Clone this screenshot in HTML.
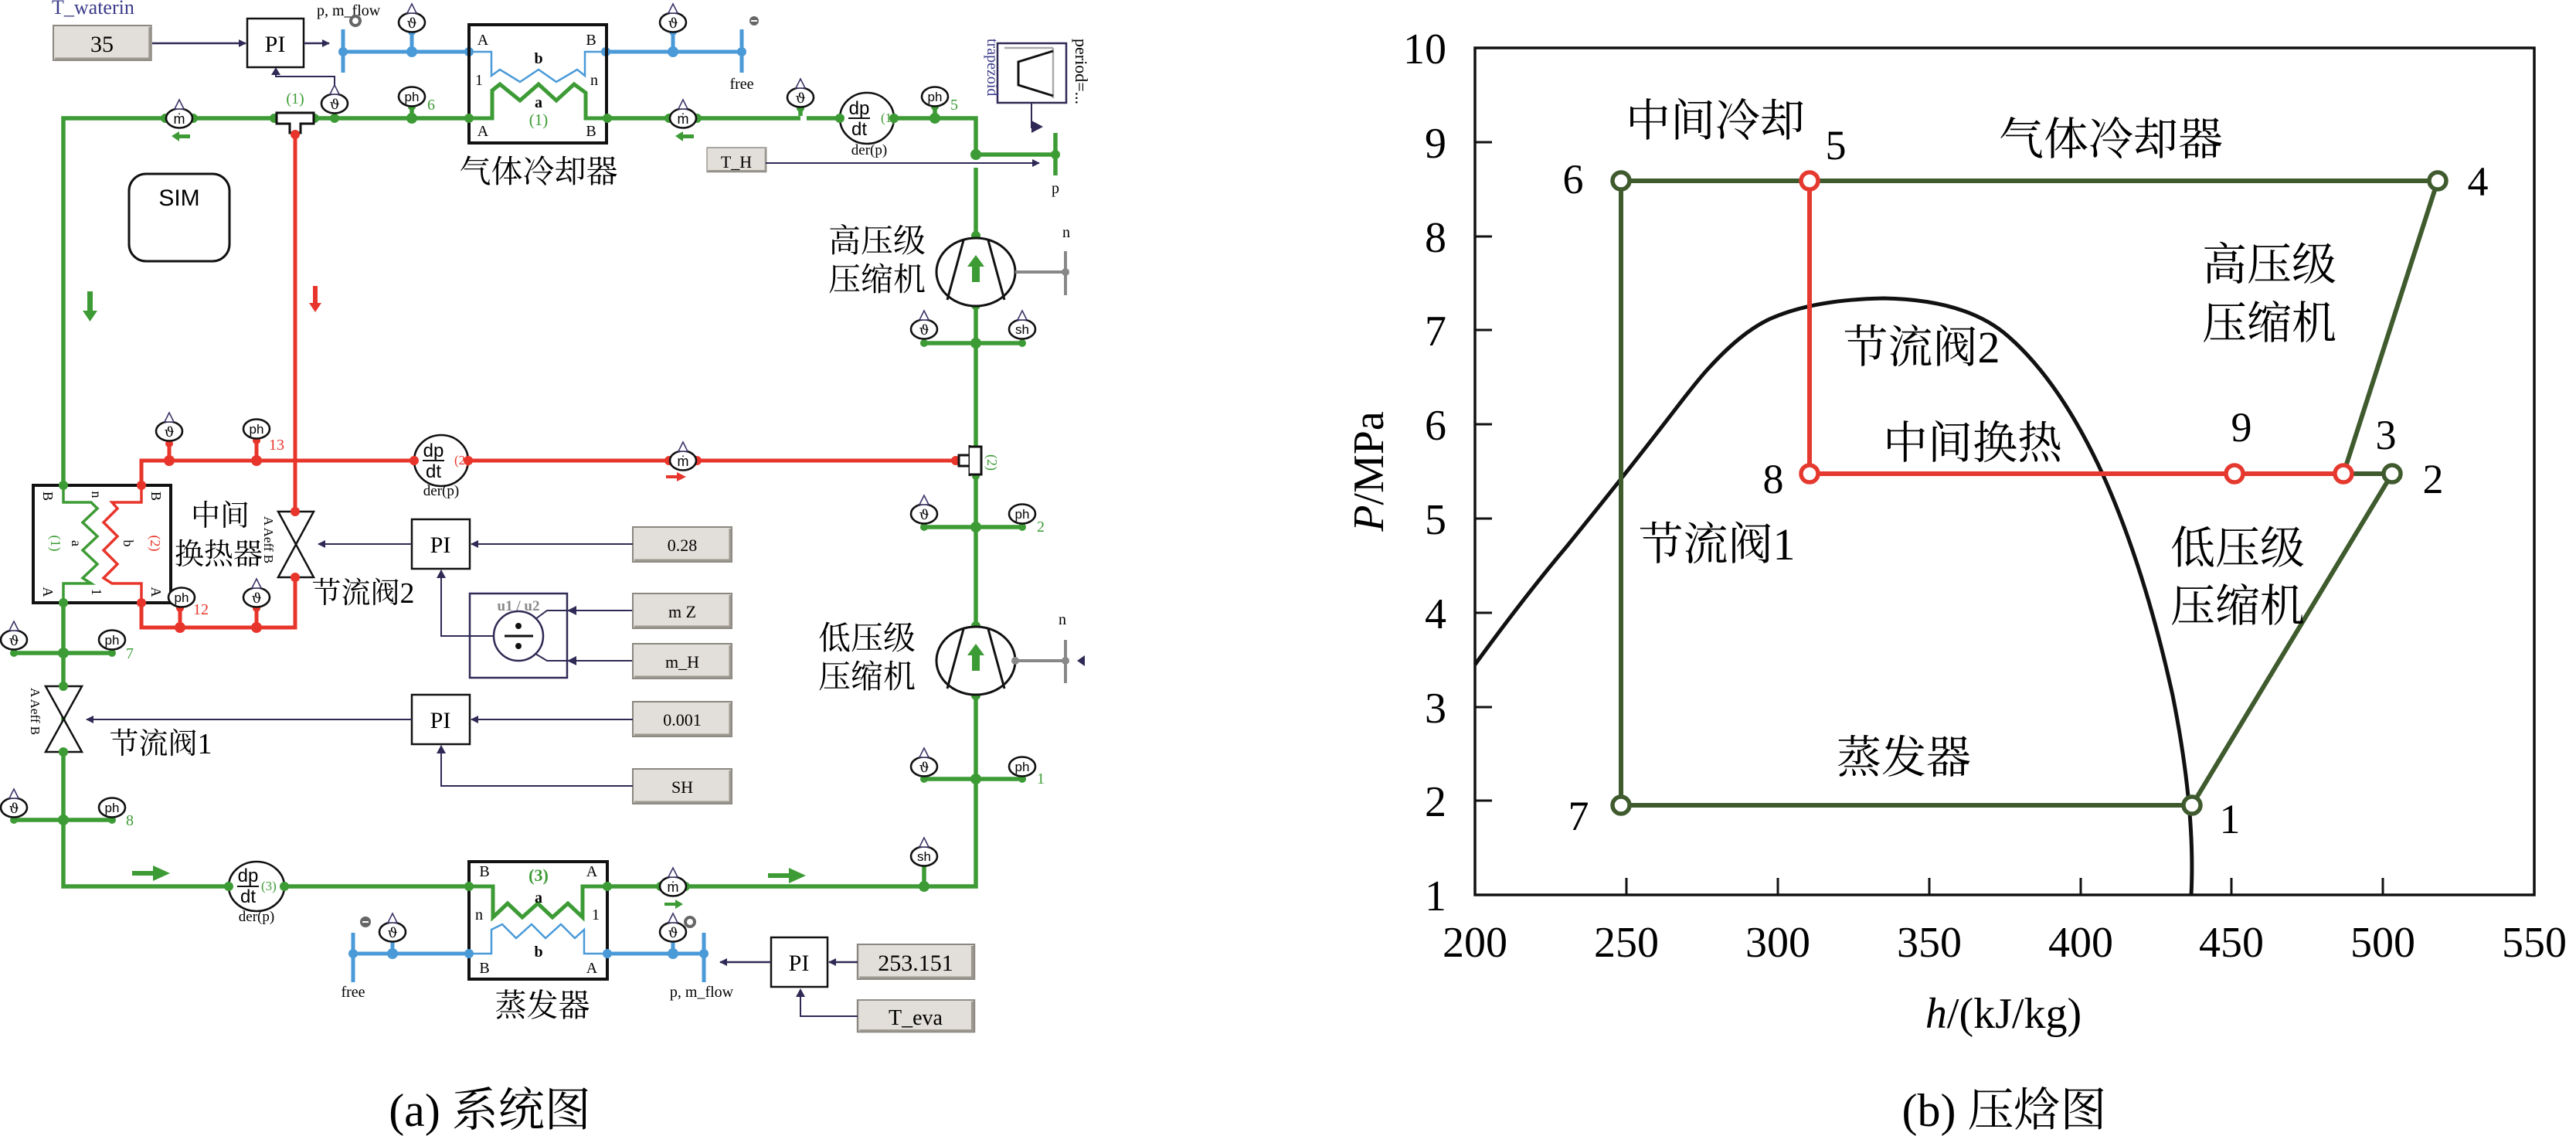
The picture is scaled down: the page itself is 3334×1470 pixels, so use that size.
<!DOCTYPE html>
<html><head><meta charset="utf-8">
<style>
html,body{margin:0;padding:0;background:#fff;}
svg{display:block;}
.s{font-family:"Liberation Serif","Noto Serif CJK SC",serif;}
.a{font-family:"Liberation Sans","DejaVu Sans",sans-serif;}
.cj{font-family:"Liberation Serif","Noto Serif CJK SC","Noto Sans CJK SC",serif;}
</style></head>
<body>
<svg width="3334" height="1470" viewBox="0 0 3334 1470" xmlns="http://www.w3.org/2000/svg">
<defs>
<g id="sb"><ellipse cx="0" cy="0" rx="17" ry="12.5" fill="#fff" stroke="#111" stroke-width="2.6"/><path d="M-6,-12 L0,-24 L6,-12 Z" fill="#fff" stroke="#3b3366" stroke-width="1.6"/></g>
<g id="sbn"><ellipse cx="0" cy="0" rx="17" ry="12.5" fill="#fff" stroke="#111" stroke-width="2.6"/></g>
<g id="cb"><rect x="0" y="0" width="128" height="45" fill="#e2dfda" stroke="#8a8780" stroke-width="2"/><path d="M2,43 H126 V2" fill="none" stroke="#9c9890" stroke-width="3"/></g>
<marker id="ah" markerWidth="10" markerHeight="10" refX="9" refY="5" orient="auto" markerUnits="userSpaceOnUse"><path d="M0,0 L10,5 L0,10 Z" fill="#2f2a55"/></marker>
</defs>

<g class="s">
<text x="67" y="18" font-size="26" fill="#3a3a8a">T_waterin</text>
<use href="#cb" transform="translate(69,33) scale(0.99,1)"/>
<text x="132" y="67" font-size="30" text-anchor="middle">35</text>
<line x1="197" y1="56" x2="318" y2="56" stroke="#2f2a55" stroke-width="2.5" marker-end="url(#ah)"/>
<rect x="320" y="24" width="73" height="63" fill="#fff" stroke="#111" stroke-width="2.5"/>
<text x="356" y="67" font-size="30" text-anchor="middle">PI</text>
<line x1="393" y1="56" x2="426" y2="56" stroke="#2f2a55" stroke-width="2.5" marker-end="url(#ah)"/>
<text x="410" y="20" font-size="20">p, m_flow</text>
<circle cx="460" cy="27" r="6" fill="#fff" stroke="#666" stroke-width="4"/>
<circle cx="976" cy="27" r="6" fill="#666"/><line x1="972" y1="27" x2="980" y2="27" stroke="#fff" stroke-width="2"/>
<path d="M433,121 V99 H357 V89" fill="none" stroke="#2f2a55" stroke-width="2"/>
<path d="M351,97 L357,87 L363,97 Z" fill="#2f2a55"/>

<g stroke="#4a9ad8" stroke-width="5" fill="none">
<line x1="444" y1="67" x2="607" y2="67"/>
<line x1="784" y1="67" x2="960" y2="67"/>
<line x1="444" y1="38" x2="444" y2="94"/>
<line x1="960" y1="38" x2="960" y2="94"/>
<line x1="533" y1="40" x2="533" y2="67"/>
<line x1="871" y1="40" x2="871" y2="67"/>
</g>
<path d="M607,67 H636 V98 L647,90 L673,106 L697,90 L720,106 L747,90 L757,98 V67 H786" fill="none" stroke="#4a9ad8" stroke-width="2.5"/>
<g fill="#4a9ad8"><circle cx="444" cy="67" r="6"/><circle cx="533" cy="67" r="7"/><circle cx="533" cy="41" r="5"/><circle cx="607" cy="67" r="6"/><circle cx="784" cy="67" r="6"/><circle cx="871" cy="67" r="7"/><circle cx="871" cy="41" r="5"/><circle cx="960" cy="67" r="6"/></g>
<use href="#sb" x="533" y="29"/><text x="533" y="36" font-size="18" text-anchor="middle" font-family="DejaVu Serif">ϑ</text>
<use href="#sb" x="871" y="29"/><text x="871" y="36" font-size="18" text-anchor="middle" font-family="DejaVu Serif">ϑ</text>
<text x="960" y="115" font-size="20" text-anchor="middle">free</text>

<rect x="607" y="32" width="178" height="153" fill="none" stroke="#111" stroke-width="4"/>
<text x="625" y="58" font-size="20" text-anchor="middle">A</text>
<text x="765" y="58" font-size="20" text-anchor="middle">B</text>
<text x="620" y="110" font-size="20" text-anchor="middle">1</text>
<text x="769" y="110" font-size="20" text-anchor="middle">n</text>
<text x="697" y="82" font-size="20" font-weight="bold" text-anchor="middle">b</text>
<text x="697" y="139" font-size="20" font-weight="bold" text-anchor="middle">a</text>
<text x="697" y="162" font-size="21" fill="#3d9b35" text-anchor="middle">(1)</text>
<text x="625" y="176" font-size="20" text-anchor="middle">A</text>
<text x="765" y="176" font-size="20" text-anchor="middle">B</text>
<path d="M607,153 H637 V117 L647,109 L673,130 L697,109 L720,130 L743,109 L758,120 V153 H786" fill="none" stroke="#3d9b35" stroke-width="5"/>
<text x="697" y="236" font-size="41" text-anchor="middle" class="cj">气体冷却器</text>

<g stroke="#3d9b35" stroke-width="5.5" fill="none">
<path d="M607,153 H82 V628"/>
<path d="M786,153 H1036"/>
<path d="M1044,153 H1263 V200"/>
<path d="M1263,200 H1366"/>
<line x1="1366" y1="172" x2="1366" y2="227"/>
<path d="M1263,217 V1147 H786"/>
<path d="M607,1147 H82 V780"/>
<line x1="1196" y1="444" x2="1323" y2="444"/>
<line x1="1196" y1="682" x2="1323" y2="682"/>
<line x1="1196" y1="1008" x2="1323" y2="1008"/>
<line x1="18" y1="845" x2="145" y2="845"/>
<line x1="18" y1="1061" x2="145" y2="1061"/>
<line x1="1196" y1="1118" x2="1196" y2="1147"/>
<line x1="433" y1="140" x2="433" y2="153"/>
<line x1="533" y1="135" x2="533" y2="153"/>
<line x1="1036" y1="137" x2="1036" y2="150"/>
<line x1="1210" y1="135" x2="1210" y2="153"/>
</g>
<g fill="#3d9b35">
<circle cx="82" cy="628" r="6"/><circle cx="82" cy="780" r="6"/>
<circle cx="214" cy="153" r="6"/><circle cx="250" cy="153" r="6"/>
<circle cx="355" cy="153" r="6"/><circle cx="407" cy="153" r="6"/>
<circle cx="433" cy="153" r="6"/><circle cx="533" cy="153" r="7"/><circle cx="533" cy="138" r="5"/>
<circle cx="607" cy="153" r="6"/><circle cx="786" cy="153" r="6"/>
<circle cx="866" cy="153" r="6"/><circle cx="902" cy="153" r="6"/>
<circle cx="1036" cy="140" r="5"/><circle cx="1087" cy="153" r="6"/><circle cx="1157" cy="153" r="6"/>
<circle cx="1210" cy="153" r="7"/><circle cx="1210" cy="138" r="5"/>
<circle cx="1263" cy="200" r="7"/><circle cx="1366" cy="200" r="6"/>
<circle cx="1263" cy="305" r="6"/><circle cx="1263" cy="395" r="6"/>
<circle cx="1196" cy="444" r="5"/><circle cx="1263" cy="444" r="7"/><circle cx="1323" cy="444" r="5"/>
<circle cx="1263" cy="580" r="5"/><circle cx="1263" cy="616" r="5"/>
<circle cx="1196" cy="682" r="5"/><circle cx="1263" cy="682" r="7"/><circle cx="1323" cy="682" r="5"/>
<circle cx="1263" cy="810" r="6"/><circle cx="1263" cy="900" r="6"/>
<circle cx="1196" cy="1008" r="5"/><circle cx="1263" cy="1008" r="7"/><circle cx="1323" cy="1008" r="5"/>
<circle cx="1196" cy="1118" r="5"/><circle cx="1196" cy="1147" r="7"/>
<circle cx="18" cy="845" r="5"/><circle cx="82" cy="845" r="7"/><circle cx="145" cy="845" r="5"/>
<circle cx="82" cy="888" r="6"/><circle cx="82" cy="973" r="6"/>
<circle cx="18" cy="1061" r="5"/><circle cx="82" cy="1061" r="7"/><circle cx="145" cy="1061" r="5"/>
<circle cx="296" cy="1147" r="6"/><circle cx="368" cy="1147" r="6"/>
<circle cx="607" cy="1147" r="6"/><circle cx="786" cy="1147" r="6"/>
<circle cx="855" cy="1147" r="6"/><circle cx="887" cy="1147" r="6"/>
</g>
<g fill="#3d9b35">
<path d="M222,176 L232,170 L232,174 L246,174 L246,179 L232,179 L232,183 Z"/>
<path d="M874,176 L884,170 L884,174 L898,174 L898,179 L884,179 L884,183 Z"/>
<path d="M113,377 H120 V402 H126 L116.5,416 L107,402 H113 Z"/>
<path d="M171,1127 H198 V1120 L220,1130 L198,1140 V1133 H171 Z"/>
<path d="M994,1130 H1021 V1123 L1043,1133 L1021,1143 V1136 H994 Z"/>
<path d="M860,1168 H874 V1164 L884,1170 L874,1176 V1172 H860 Z"/>
</g>

<path d="M358,146 H406 V160 H389 V172 H375 V160 H358 Z" fill="#fff" stroke="#111" stroke-width="3"/>
<text x="382" y="134" font-size="20" fill="#3d9b35" text-anchor="middle">(1)</text>

<use href="#sb" x="433" y="134"/><text x="433" y="141" font-size="18" text-anchor="middle" font-family="DejaVu Serif">ϑ</text>
<use href="#sbn" x="533" y="125"/><text x="533" y="131" font-size="17" text-anchor="middle" class="a">ph</text>
<text x="553" y="142" font-size="20" fill="#3d9b35">6</text>
<use href="#sb" x="232" y="153"/><text x="232" y="160" font-size="18" text-anchor="middle" class="a">ṁ</text>
<use href="#sb" x="884" y="153"/><text x="884" y="160" font-size="18" text-anchor="middle" class="a">ṁ</text>
<use href="#sb" x="1036" y="126"/><text x="1036" y="133" font-size="18" text-anchor="middle" font-family="DejaVu Serif">ϑ</text>
<use href="#sbn" x="1210" y="125"/><text x="1210" y="131" font-size="17" text-anchor="middle" class="a">ph</text>
<text x="1230" y="142" font-size="20" fill="#3d9b35">5</text>
<ellipse cx="1122" cy="153" rx="35" ry="33" fill="#fff" stroke="#111" stroke-width="2.6"/>
<text x="1112" y="148" font-size="24" text-anchor="middle" class="a">dp</text>
<line x1="1098" y1="153" x2="1126" y2="153" stroke="#111" stroke-width="2"/>
<text x="1112" y="175" font-size="24" text-anchor="middle" class="a">dt</text>
<text x="1140" y="158" font-size="17" fill="#3d9b35">(1)</text>
<text x="1125" y="200" font-size="19" text-anchor="middle">der(p)</text>
<circle cx="1087" cy="153" r="6" fill="#3d9b35"/><circle cx="1157" cy="153" r="6" fill="#3d9b35"/>

<use href="#cb" transform="translate(915,191) scale(0.6,0.7)"/>
<text x="953" y="217" font-size="22" text-anchor="middle">T_H</text>
<line x1="991" y1="211" x2="1345" y2="211" stroke="#2f2a55" stroke-width="2" marker-end="url(#ah)"/>
<rect x="1291" y="56" width="89" height="77" fill="#fff" stroke="#2f2a55" stroke-width="2.5"/>
<path d="M1363,62 V127 M1300,62 H1363" stroke="#aaa" stroke-width="2.5" fill="none"/>
<path d="M1363,66 L1318,80 V110 L1363,124" stroke="#111" stroke-width="3" fill="none"/>
<text transform="translate(1278,50) rotate(90)" font-size="20" fill="#3a3a8a">trapezoid</text>
<text transform="translate(1392,50) rotate(90)" font-size="22">period=...</text>
<line x1="1335" y1="133" x2="1335" y2="166" stroke="#2f2a55" stroke-width="2"/>
<path d="M1335,156 L1350,164 L1335,172 Z" fill="#2f2a55"/>
<text x="1366" y="250" font-size="20" text-anchor="middle">p</text>

<ellipse cx="1263" cy="352" rx="51" ry="44" fill="#fff" stroke="#111" stroke-width="3"/>
<path d="M1247,311 L1226,388 M1279,311 L1300,388" stroke="#111" stroke-width="3"/>
<path d="M1258,365 V345 H1252 L1263,330 L1274,345 H1268 V365 Z" fill="#3d9b35"/>
<line x1="1314" y1="352" x2="1379" y2="352" stroke="#888" stroke-width="4"/>
<line x1="1379" y1="325" x2="1379" y2="382" stroke="#888" stroke-width="4"/>
<circle cx="1379" cy="352" r="5" fill="#888"/>
<text x="1380" y="307" font-size="20" text-anchor="middle">n</text>
<text x="1135" y="326" font-size="42" text-anchor="middle" class="cj">高压级</text>
<text x="1135" y="376" font-size="42" text-anchor="middle" class="cj">压缩机</text>

<use href="#sb" x="1196" y="426"/><text x="1196" y="433" font-size="18" text-anchor="middle" font-family="DejaVu Serif">ϑ</text>
<use href="#sb" x="1323" y="426"/><text x="1323" y="432" font-size="17" text-anchor="middle" class="a">sh</text>
<use href="#sb" x="1196" y="665"/><text x="1196" y="672" font-size="18" text-anchor="middle" font-family="DejaVu Serif">ϑ</text>
<use href="#sbn" x="1323" y="665"/><text x="1323" y="671" font-size="17" text-anchor="middle" class="a">ph</text>
<text x="1342" y="688" font-size="20" fill="#3d9b35">2</text>
<use href="#sb" x="1196" y="992"/><text x="1196" y="999" font-size="18" text-anchor="middle" font-family="DejaVu Serif">ϑ</text>
<use href="#sbn" x="1323" y="992"/><text x="1323" y="998" font-size="17" text-anchor="middle" class="a">ph</text>
<text x="1342" y="1014" font-size="20" fill="#3d9b35">1</text>
<use href="#sb" x="1196" y="1108"/><text x="1196" y="1114" font-size="17" text-anchor="middle" class="a">sh</text>

<ellipse cx="1263" cy="855" rx="51" ry="44" fill="#fff" stroke="#111" stroke-width="3"/>
<path d="M1247,814 L1226,891 M1279,814 L1300,891" stroke="#111" stroke-width="3"/>
<path d="M1258,868 V848 H1252 L1263,833 L1274,848 H1268 V868 Z" fill="#3d9b35"/>
<line x1="1314" y1="855" x2="1379" y2="855" stroke="#888" stroke-width="4"/>
<line x1="1379" y1="828" x2="1379" y2="884" stroke="#888" stroke-width="4"/>
<circle cx="1314" cy="855" r="5" fill="#888"/><circle cx="1379" cy="855" r="5" fill="#888"/>
<path d="M1404,848 L1394,855 L1404,862 Z" fill="#2f2a55"/>
<text x="1375" y="808" font-size="20" text-anchor="middle">n</text>
<text x="1122" y="840" font-size="42" text-anchor="middle" class="cj">低压级</text>
<text x="1122" y="890" font-size="42" text-anchor="middle" class="cj">压缩机</text>

<rect x="167" y="225" width="130" height="113" rx="22" fill="#fff" stroke="#111" stroke-width="3"/>
<text x="232" y="266" font-size="30" text-anchor="middle" class="a">SIM</text>

<g stroke="#e8352b" stroke-width="5" fill="none">
<line x1="382" y1="174" x2="382" y2="662"/>
<path d="M183,628 V596 H1237"/>
<path d="M382,747 V812 H183 V780"/>
<line x1="219" y1="572" x2="219" y2="596"/>
<line x1="332" y1="568" x2="332" y2="596"/>
<line x1="233" y1="785" x2="233" y2="812"/>
<line x1="332" y1="785" x2="332" y2="812"/>
</g>
<path d="M405,370 H411 V392 H416 L408,404 L400,392 H405 Z" fill="#e8352b"/>
<path d="M862,615 H876 V611 L888,617 L876,623 V619 H862 Z" fill="#e8352b"/>
<g fill="#e8352b">
<circle cx="382" cy="174" r="6"/><circle cx="382" cy="662" r="6"/><circle cx="382" cy="747" r="6"/>
<circle cx="183" cy="628" r="6"/><circle cx="183" cy="780" r="6"/>
<circle cx="219" cy="596" r="7"/><circle cx="219" cy="574" r="5"/>
<circle cx="332" cy="596" r="7"/><circle cx="332" cy="570" r="5"/>
<circle cx="536" cy="596" r="6"/><circle cx="606" cy="596" r="6"/>
<circle cx="866" cy="596" r="6"/><circle cx="902" cy="596" r="6"/>
<circle cx="1237" cy="596" r="6"/>
<circle cx="233" cy="812" r="7"/><circle cx="233" cy="787" r="5"/>
<circle cx="332" cy="812" r="7"/><circle cx="332" cy="787" r="5"/>
</g>
<use href="#sb" x="219" y="558"/><text x="219" y="565" font-size="18" text-anchor="middle" font-family="DejaVu Serif">ϑ</text>
<use href="#sbn" x="332" y="555"/><text x="332" y="561" font-size="17" text-anchor="middle" class="a">ph</text>
<text x="348" y="582" font-size="20" fill="#e8352b">13</text>
<ellipse cx="571" cy="596" rx="35" ry="33" fill="#fff" stroke="#111" stroke-width="2.6"/>
<text x="561" y="591" font-size="24" text-anchor="middle" class="a">dp</text>
<line x1="547" y1="596" x2="575" y2="596" stroke="#111" stroke-width="2"/>
<text x="561" y="618" font-size="24" text-anchor="middle" class="a">dt</text>
<text x="588" y="601" font-size="17" fill="#e8352b">(2)</text>
<text x="571" y="641" font-size="19" text-anchor="middle">der(p)</text>
<circle cx="536" cy="596" r="6" fill="#e8352b"/><circle cx="606" cy="596" r="6" fill="#e8352b"/>
<use href="#sb" x="884" y="596"/><text x="884" y="603" font-size="18" text-anchor="middle" class="a">ṁ</text>
<path d="M1255,576 V616 M1241,589 H1255 V603 H1241 Z" fill="#fff" stroke="#111" stroke-width="3"/>
<path d="M1255,578 H1270 V614 H1255" fill="#fff" stroke="#111" stroke-width="3"/>
<text transform="translate(1278,588) rotate(90)" font-size="18" fill="#3d9b35">(2)</text>

<rect x="43" y="628" width="178" height="152" fill="#fff" stroke="#111" stroke-width="4"/>
<path d="M82,628 V650 H118 L126,658 L107,676 L126,694 L107,712 L126,730 L107,748 L118,755 H82 V780" fill="none" stroke="#3d9b35" stroke-width="3.5"/>
<path d="M183,628 V650 H145 L152,658 L134,676 L152,694 L134,712 L152,730 L134,748 L145,755 H183 V780" fill="none" stroke="#e8352b" stroke-width="3.5"/>
<g font-size="18">
<text transform="translate(56,642) rotate(90)" text-anchor="middle">B</text>
<text transform="translate(119,640) rotate(90)" text-anchor="middle">n</text>
<text transform="translate(196,642) rotate(90)" text-anchor="middle">B</text>
<text transform="translate(66,703) rotate(90)" text-anchor="middle" fill="#3d9b35">(1)</text>
<text transform="translate(93,703) rotate(90)" text-anchor="middle">a</text>
<text transform="translate(160,703) rotate(90)" text-anchor="middle">b</text>
<text transform="translate(195,703) rotate(90)" text-anchor="middle" fill="#e8352b">(2)</text>
<text transform="translate(56,766) rotate(90)" text-anchor="middle">A</text>
<text transform="translate(119,766) rotate(90)" text-anchor="middle">1</text>
<text transform="translate(196,766) rotate(90)" text-anchor="middle">A</text>
</g>
<circle cx="82" cy="628" r="6" fill="#3d9b35"/><circle cx="82" cy="780" r="6" fill="#3d9b35"/>
<circle cx="183" cy="628" r="6" fill="#e8352b"/><circle cx="183" cy="780" r="6" fill="#e8352b"/>
<use href="#sbn" x="235" y="773"/><text x="235" y="779" font-size="17" text-anchor="middle" class="a">ph</text>
<text x="250" y="795" font-size="20" fill="#e8352b">12</text>
<use href="#sb" x="332" y="773"/><text x="332" y="780" font-size="18" text-anchor="middle" font-family="DejaVu Serif">ϑ</text>
<text x="285" y="680" font-size="38" text-anchor="middle" class="cj">中间</text>
<text x="283" y="730" font-size="38" text-anchor="middle" class="cj">换热器</text>

<path d="M360,662 H406 L360,747 H406 Z" fill="#fff" stroke="#111" stroke-width="2.5"/>
<circle cx="382" cy="662" r="6" fill="#e8352b"/><circle cx="382" cy="747" r="6" fill="#e8352b"/>
<text transform="translate(342,668) rotate(90)" font-size="17">A Aeff B</text>
<text x="470" y="780" font-size="38" text-anchor="middle" class="cj">节流阀2</text>
<rect x="533" y="672" width="75" height="64" fill="#fff" stroke="#111" stroke-width="2.5"/>
<text x="570" y="715" font-size="30" text-anchor="middle">PI</text>
<line x1="533" y1="704" x2="412" y2="704" stroke="#2f2a55" stroke-width="2" marker-end="url(#ah)"/>
<use href="#cb" transform="translate(819,682) scale(1,1)"/>
<text x="883" y="713" font-size="22" text-anchor="middle">0.28</text>
<line x1="819" y1="704" x2="610" y2="704" stroke="#2f2a55" stroke-width="2" marker-end="url(#ah)"/>
<rect x="608" y="768" width="126" height="109" fill="#fff" stroke="#2f2a55" stroke-width="2.5"/>
<text x="671" y="790" font-size="19" font-weight="bold" fill="#888" text-anchor="middle">u1 / u2</text>
<circle cx="671" cy="823" r="32" fill="#fff" stroke="#2f2a55" stroke-width="2.5"/>
<line x1="653" y1="823" x2="690" y2="823" stroke="#111" stroke-width="3"/>
<circle cx="671" cy="810" r="4" fill="#111"/><circle cx="671" cy="836" r="4" fill="#111"/>
<path d="M639,823 H571 V738" fill="none" stroke="#2f2a55" stroke-width="2"/>
<path d="M565,748 L571,737 L577,748 Z" fill="#2f2a55"/>
<path d="M693,801 L708,790 H819 M693,846 L708,855 H819" fill="none" stroke="#2f2a55" stroke-width="2"/>
<path d="M734,790 L746,784 V796 Z M734,855 L746,849 V861 Z" fill="#2f2a55"/>
<use href="#cb" transform="translate(819,768)"/>
<text x="883" y="799" font-size="22" text-anchor="middle">m  Z</text>
<use href="#cb" transform="translate(819,833)"/>
<text x="883" y="864" font-size="22" text-anchor="middle">m_H</text>

<path d="M59,888 H106 L59,973 H106 Z" fill="#fff" stroke="#111" stroke-width="2.5"/>
<circle cx="82" cy="888" r="6" fill="#3d9b35"/><circle cx="82" cy="973" r="6" fill="#3d9b35"/>
<text transform="translate(40,890) rotate(90)" font-size="17">A Aeff B</text>
<text x="208" y="975" font-size="38" text-anchor="middle" class="cj">节流阀1</text>
<rect x="533" y="899" width="75" height="64" fill="#fff" stroke="#111" stroke-width="2.5"/>
<text x="570" y="942" font-size="30" text-anchor="middle">PI</text>
<line x1="533" y1="931" x2="112" y2="931" stroke="#2f2a55" stroke-width="2" marker-end="url(#ah)"/>
<use href="#cb" transform="translate(819,908)"/>
<text x="883" y="939" font-size="22" text-anchor="middle">0.001</text>
<line x1="819" y1="931" x2="610" y2="931" stroke="#2f2a55" stroke-width="2" marker-end="url(#ah)"/>
<use href="#cb" transform="translate(819,995)"/>
<text x="883" y="1026" font-size="22" text-anchor="middle">SH</text>
<path d="M819,1017 H571 V965" fill="none" stroke="#2f2a55" stroke-width="2"/>
<path d="M565,975 L571,964 L577,975 Z" fill="#2f2a55"/>

<use href="#sb" x="18" y="828"/><text x="18" y="835" font-size="18" text-anchor="middle" font-family="DejaVu Serif">ϑ</text>
<use href="#sbn" x="145" y="828"/><text x="145" y="834" font-size="17" text-anchor="middle" class="a">ph</text>
<text x="163" y="852" font-size="20" fill="#3d9b35">7</text>
<use href="#sb" x="18" y="1045"/><text x="18" y="1052" font-size="18" text-anchor="middle" font-family="DejaVu Serif">ϑ</text>
<use href="#sbn" x="145" y="1045"/><text x="145" y="1051" font-size="17" text-anchor="middle" class="a">ph</text>
<text x="163" y="1068" font-size="20" fill="#3d9b35">8</text>

<ellipse cx="332" cy="1147" rx="36" ry="32" fill="#fff" stroke="#111" stroke-width="2.6"/>
<text x="321" y="1141" font-size="24" text-anchor="middle" class="a">dp</text>
<line x1="307" y1="1147" x2="335" y2="1147" stroke="#111" stroke-width="2"/>
<text x="321" y="1168" font-size="24" text-anchor="middle" class="a">dt</text>
<text x="338" y="1152" font-size="17" fill="#3d9b35">(3)</text>
<text x="332" y="1192" font-size="19" text-anchor="middle">der(p)</text>
<circle cx="296" cy="1147" r="6" fill="#3d9b35"/><circle cx="368" cy="1147" r="6" fill="#3d9b35"/>

<g stroke="#4a9ad8" stroke-width="5" fill="none">
<line x1="457" y1="1234" x2="607" y2="1234"/>
<line x1="786" y1="1234" x2="911" y2="1234"/>
<line x1="457" y1="1207" x2="457" y2="1271"/>
<line x1="911" y1="1207" x2="911" y2="1271"/>
<line x1="508" y1="1218" x2="508" y2="1234"/>
<line x1="871" y1="1218" x2="871" y2="1234"/>
</g>
<rect x="607" y="1115" width="179" height="152" fill="none" stroke="#111" stroke-width="4"/>
<path d="M607,1147 H638 V1187 L657,1169 L676,1187 L696,1169 L715,1187 L735,1169 L754,1187 V1147 H786" fill="none" stroke="#3d9b35" stroke-width="5"/>
<path d="M607,1234 H636 V1203 L650,1196 L668,1214 L688,1196 L706,1214 L726,1196 L744,1214 L756,1203 V1234 H786" fill="none" stroke="#4a9ad8" stroke-width="2.5"/>
<g fill="#4a9ad8"><circle cx="457" cy="1234" r="6"/><circle cx="508" cy="1234" r="7"/><circle cx="607" cy="1234" r="6"/><circle cx="786" cy="1234" r="6"/><circle cx="871" cy="1234" r="7"/><circle cx="911" cy="1234" r="6"/></g>
<circle cx="607" cy="1147" r="6" fill="#3d9b35"/><circle cx="786" cy="1147" r="6" fill="#3d9b35"/>
<text x="627" y="1134" font-size="20" text-anchor="middle">B</text>
<text x="766" y="1134" font-size="20" text-anchor="middle">A</text>
<text x="697" y="1140" font-size="22" font-weight="bold" fill="#3d9b35" text-anchor="middle">(3)</text>
<text x="697" y="1168" font-size="20" font-weight="bold" text-anchor="middle">a</text>
<text x="620" y="1190" font-size="20" text-anchor="middle">n</text>
<text x="771" y="1190" font-size="20" text-anchor="middle">1</text>
<text x="697" y="1238" font-size="20" font-weight="bold" text-anchor="middle">b</text>
<text x="627" y="1259" font-size="20" text-anchor="middle">B</text>
<text x="766" y="1259" font-size="20" text-anchor="middle">A</text>
<text x="702" y="1315" font-size="41" text-anchor="middle" class="cj">蒸发器</text>
<use href="#sb" x="508" y="1206"/><text x="508" y="1213" font-size="18" text-anchor="middle" font-family="DejaVu Serif">ϑ</text>
<use href="#sb" x="871" y="1206"/><text x="871" y="1213" font-size="18" text-anchor="middle" font-family="DejaVu Serif">ϑ</text>
<use href="#sb" x="871" y="1147"/><text x="871" y="1154" font-size="18" text-anchor="middle" class="a">ṁ</text>
<circle cx="473" cy="1193" r="7" fill="#666"/><line x1="469" y1="1193" x2="477" y2="1193" stroke="#fff" stroke-width="2"/>
<circle cx="893" cy="1193" r="6" fill="#fff" stroke="#666" stroke-width="4"/>
<text x="457" y="1290" font-size="20" text-anchor="middle">free</text>
<text x="908" y="1290" font-size="20" text-anchor="middle">p, m_flow</text>
<rect x="998" y="1213" width="73" height="64" fill="#fff" stroke="#111" stroke-width="2.5"/>
<text x="1034" y="1256" font-size="30" text-anchor="middle">PI</text>
<line x1="998" y1="1245" x2="932" y2="1245" stroke="#2f2a55" stroke-width="2.5" marker-end="url(#ah)"/>
<use href="#cb" transform="translate(1110,1222) scale(1.18,1)"/>
<text x="1185" y="1256" font-size="30" text-anchor="middle">253.151</text>
<line x1="1110" y1="1245" x2="1073" y2="1245" stroke="#2f2a55" stroke-width="2.5" marker-end="url(#ah)"/>
<use href="#cb" transform="translate(1110,1294) scale(1.18,0.92)"/>
<text x="1185" y="1326" font-size="28" text-anchor="middle">T_eva</text>
<path d="M1110,1315 H1036 V1281" fill="none" stroke="#2f2a55" stroke-width="2"/>
<path d="M1030,1290 L1036,1279 L1042,1290 Z" fill="#2f2a55"/>

<text x="634" y="1457" font-size="60" text-anchor="middle" class="cj">(a) 系统图</text>
</g>

<g class="s">
<rect x="1909" y="62" width="1371" height="1096" fill="none" stroke="#111" stroke-width="3.5"/>
<g stroke="#111" stroke-width="3">
<line x1="2105" y1="1158" x2="2105" y2="1136"/><line x1="2301" y1="1158" x2="2301" y2="1136"/>
<line x1="2497" y1="1158" x2="2497" y2="1136"/><line x1="2693" y1="1158" x2="2693" y2="1136"/>
<line x1="2888" y1="1158" x2="2888" y2="1136"/><line x1="3084" y1="1158" x2="3084" y2="1136"/>
<line x1="1909" y1="184" x2="1931" y2="184"/><line x1="1909" y1="306" x2="1931" y2="306"/>
<line x1="1909" y1="427" x2="1931" y2="427"/><line x1="1909" y1="549" x2="1931" y2="549"/>
<line x1="1909" y1="671" x2="1931" y2="671"/><line x1="1909" y1="793" x2="1931" y2="793"/>
<line x1="1909" y1="915" x2="1931" y2="915"/><line x1="1909" y1="1036" x2="1931" y2="1036"/>
</g>
<g font-size="56" text-anchor="end">
<text x="1872" y="82">10</text><text x="1872" y="204">9</text><text x="1872" y="326">8</text>
<text x="1872" y="447">7</text><text x="1872" y="569">6</text><text x="1872" y="691">5</text>
<text x="1872" y="813">4</text><text x="1872" y="935">3</text><text x="1872" y="1056">2</text>
<text x="1872" y="1178">1</text>
</g>
<g font-size="56" text-anchor="middle">
<text x="1909" y="1238">200</text><text x="2105" y="1238">250</text><text x="2301" y="1238">300</text>
<text x="2497" y="1238">350</text><text x="2693" y="1238">400</text><text x="2888" y="1238">450</text>
<text x="3084" y="1238">500</text><text x="3280" y="1238">550</text>
</g>
<text transform="translate(1790,610) rotate(-90)" font-size="56" text-anchor="middle"><tspan font-style="italic">P</tspan>/MPa</text>
<text x="2593" y="1330" font-size="56" text-anchor="middle"><tspan font-style="italic">h</tspan>/(kJ/kg)</text>

<path d="M1909,860 C1960,790 2000,740 2027,708 C2070,655 2110,605 2144,561 C2170,528 2190,500 2210,478 C2240,445 2265,425 2290,413 C2330,395 2380,387 2438,386 C2500,387 2560,400 2600,436 C2650,480 2690,545 2722,615 C2760,700 2790,800 2812,900 C2830,990 2840,1080 2836,1158" fill="none" stroke="#111" stroke-width="5"/>

<g fill="none" stroke="#3f5b2e" stroke-width="6">
<path d="M2098,234 H3155 L3033,613 H3096 L2837,1042 H2098 Z"/>
</g>
<g fill="none" stroke="#e5392f" stroke-width="6">
<path d="M2342,234 V613 H3033"/>
</g>
<g fill="#fff" stroke-width="5.5">
<circle cx="2098" cy="234" r="11" stroke="#3f5b2e"/>
<circle cx="3155" cy="234" r="11" stroke="#3f5b2e"/>
<circle cx="3096" cy="613" r="11" stroke="#3f5b2e"/>
<circle cx="2837" cy="1042" r="11" stroke="#3f5b2e"/>
<circle cx="2098" cy="1042" r="11" stroke="#3f5b2e"/>
<circle cx="2342" cy="234" r="11" stroke="#e5392f"/>
<circle cx="2342" cy="613" r="11" stroke="#e5392f"/>
<circle cx="2892" cy="613" r="11" stroke="#e5392f"/>
<circle cx="3033" cy="613" r="11" stroke="#e5392f"/>
</g>
<g font-size="54" text-anchor="middle">
<text x="2036" y="250">6</text><text x="2376" y="206">5</text><text x="3207" y="253">4</text>
<text x="3088" y="581">3</text><text x="3149" y="638">2</text><text x="2901" y="571">9</text>
<text x="2295" y="638">8</text><text x="2043" y="1074">7</text><text x="2886" y="1078">1</text>
</g>
<g font-size="58" class="cj" text-anchor="middle">
<text x="2220" y="176">中间冷却</text>
<text x="2732" y="200">气体冷却器</text>
<text x="2937" y="362">高压级</text>
<text x="2937" y="438">压缩机</text>
<text x="2487" y="469">节流阀2</text>
<text x="2553" y="593">中间换热</text>
<text x="2222" y="724">节流阀1</text>
<text x="2896" y="729">低压级</text>
<text x="2896" y="804">压缩机</text>
<text x="2464" y="1000">蒸发器</text>
</g>
<text x="2594" y="1457" font-size="60" text-anchor="middle" class="cj">(b) 压焓图</text>
</g>
</svg>
</body></html>
